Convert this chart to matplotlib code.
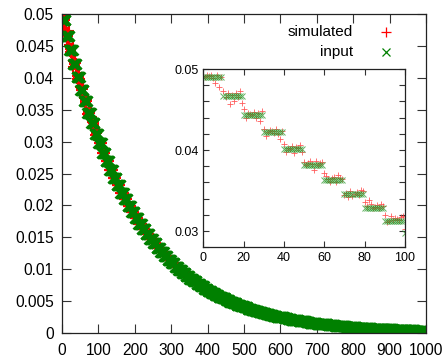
import numpy as np
import matplotlib
matplotlib.use("Agg")
import matplotlib.pyplot as plt

plt.rcParams['font.family'] = ['Liberation Sans', 'DejaVu Sans']

# input: one level per bin of 10 channels (0-9, 10-19, ... 990-999), plus the last point at 1000
input_levels = [
    0.04901, 0.04662, 0.04435, 0.04218, 0.04013, 0.03817, 0.03631, 0.03454, 0.03285, 0.03125,
    0.02973, 0.02828, 0.02690, 0.02558, 0.02434, 0.02315, 0.02202, 0.02095, 0.01992, 0.01895,
    0.01803, 0.01715, 0.01632, 0.01552, 0.01476, 0.01404, 0.01336, 0.01271, 0.01208, 0.01149,
    0.01094, 0.01040, 0.00990, 0.00941, 0.00895, 0.00852, 0.00810, 0.00771, 0.00733, 0.00697,
    0.00663, 0.00631, 0.00600, 0.00571, 0.00543, 0.00517, 0.00491, 0.00468, 0.00445, 0.00423,
    0.00402, 0.00383, 0.00364, 0.00346, 0.00329, 0.00313, 0.00298, 0.00284, 0.00270, 0.00257,
    0.00244, 0.00232, 0.00221, 0.00210, 0.00200, 0.00190, 0.00181, 0.00172, 0.00164, 0.00156,
    0.00148, 0.00141, 0.00134, 0.00127, 0.00121, 0.00115, 0.00110, 0.00104, 0.00099, 0.00094,
    0.00090, 0.00085, 0.00081, 0.00077, 0.00073, 0.00070, 0.00067, 0.00063, 0.00060, 0.00057,
    0.00055, 0.00052, 0.00049, 0.00047, 0.00045, 0.00042, 0.00040, 0.00038, 0.00036, 0.00035,
]
input_last = 0.00034
bin_width = 10

x_all = np.arange(0, 1001)
y_input = np.append(np.repeat(input_levels, bin_width), input_last)

# simulated values for channels 0..100 (as seen in the inset)
sim_first = [
    0.0491, 0.0490, 0.0492, 0.0491, 0.0493, 0.0489, 0.0483, 0.0492, 0.0478, 0.0490,
    0.0473, 0.0466, 0.0471, 0.0457, 0.0468, 0.0461, 0.0470, 0.0466, 0.0473, 0.0458,
    0.0451, 0.0440, 0.0446, 0.0445, 0.0443, 0.0447, 0.0439, 0.0446, 0.0436, 0.0448,
    0.0426, 0.0417, 0.0422, 0.0425, 0.0424, 0.0421, 0.0426, 0.0420, 0.0414, 0.0423,
    0.0407, 0.0398, 0.0403, 0.0401, 0.0405, 0.0396, 0.0404, 0.0402, 0.0406, 0.0398,
    0.0385, 0.0381, 0.0384, 0.0386, 0.0383, 0.0375, 0.0387, 0.0382, 0.0384, 0.0385,
    0.0372, 0.0368, 0.0364, 0.0360, 0.0366, 0.0367, 0.0360, 0.0369, 0.0366, 0.0364,
    0.0344, 0.0347, 0.0342, 0.0349, 0.0343, 0.0346, 0.0348, 0.0345, 0.0351, 0.0349,
    0.0336, 0.0331, 0.0338, 0.0333, 0.0329, 0.0330, 0.0332, 0.0328, 0.0334, 0.0331,
    0.0320, 0.0311, 0.0313, 0.0318, 0.0314, 0.0316, 0.0315, 0.0314, 0.0317, 0.0319,
    0.0302,
]
y_sim = y_input.copy()
y_sim[:len(sim_first)] = sim_first

red = '#ff0000'
green = '#008000'

fig = plt.figure(figsize=(4.43, 3.60), dpi=100)
ax = fig.add_axes([0.140, 0.075, 0.8216, 0.886])

ax.plot(x_all, y_sim, '+', color=red, ms=7, mew=1.5)
ax.plot(x_all, y_input, 'x', color=green, ms=6.5, mew=1.9)

ax.set_xlim(0, 1000)
ax.set_ylim(0, 0.05)
ax.set_xticks(np.arange(0, 1001, 100))
ax.set_yticks(np.arange(0, 0.0501, 0.005))
ax.set_yticklabels(['0', '0.005', '0.01', '0.015', '0.02', '0.025',
                    '0.03', '0.035', '0.04', '0.045', '0.05'])
ax.tick_params(direction='in', length=6.5, width=0.8, top=True, right=True,
               labelsize=11.2, color='#333333')
ax.tick_params(axis='y', pad=6)
ax.tick_params(axis='x', pad=7)
for s in ax.spines.values():
    s.set_linewidth(0.9)
    s.set_color('#222222')

# legend, gnuplot style: right-aligned text with the sample after it
ax.text(0.800, 0.943, 'simulated', transform=ax.transAxes, ha='right', va='center', fontsize=11)
ax.text(0.800, 0.880, 'input', transform=ax.transAxes, ha='right', va='center', fontsize=11)
ax.plot([0.891], [0.943], '+', color=red, ms=7, mew=0.9, transform=ax.transAxes, clip_on=False)
ax.plot([0.891], [0.880], 'x', color=green, ms=6, mew=0.9, transform=ax.transAxes, clip_on=False)

# inset
ins = fig.add_axes([0.459, 0.3131, 0.455, 0.4952])
n_in = len(sim_first)
ins.plot(x_all[:n_in], y_sim[:n_in], '+', color='#ff3333', ms=4, mew=0.6, alpha=0.8)
ins.plot(x_all[:n_in], y_input[:n_in], 'x', color='#2e9a2e', ms=3.8, mew=0.7, alpha=0.75)
ins.set_xlim(0, 100)
ins.set_ylim(0.028, 0.05)
ins.set_xticks(np.arange(0, 101, 20))
ins.set_yticks([0.03, 0.04, 0.05])
ins.set_yticklabels(['0.03', '0.04', '0.05'])
ins.set_yticks(np.arange(0.028, 0.0501, 0.002), minor=True)
ins.tick_params(direction='in', length=4, width=0.8, top=True, right=True,
                labelsize=9, pad=3.5, color='#333333')
ins.tick_params(which='minor', direction='in', length=4, width=0.8, right=True, color='#333333')
for s in ins.spines.values():
    s.set_linewidth(0.9)
    s.set_color('#222222')

fig.savefig('out.png', dpi=100)
